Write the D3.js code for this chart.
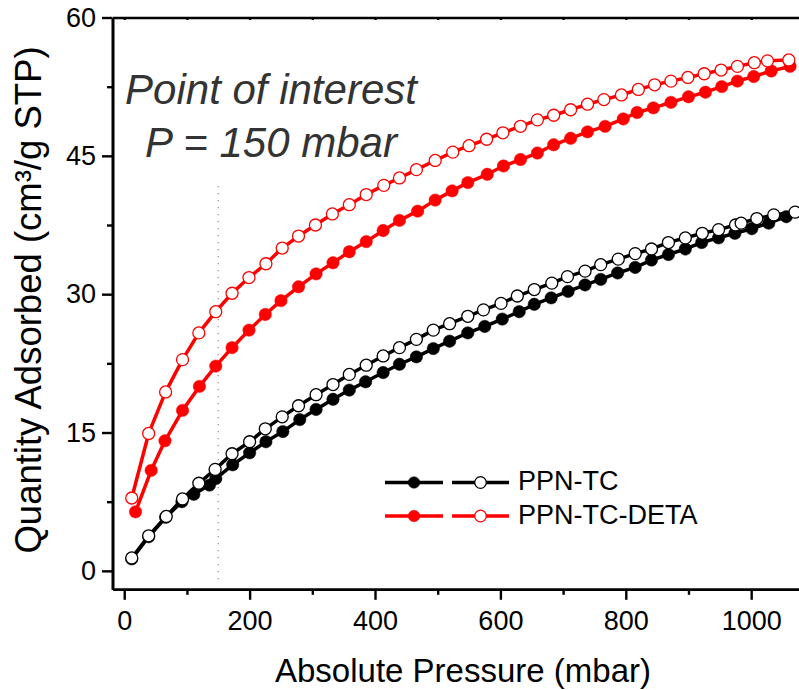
<!DOCTYPE html>
<html>
<head>
<meta charset="utf-8">
<script src="https://cdn.jsdelivr.net/npm/d3@7"></script>
<style>
  html, body { margin: 0; padding: 0; background: #fff; }
  svg { display: block; font-family: "Liberation Sans", Arial, sans-serif; }
</style>
</head>
<body>
<svg id="chart" width="799" height="690"></svg>
<script>
// CO2 uptake isotherms (mbar vs cm3/g STP)
const tcFilledP = [12, 39, 66, 92, 111, 136, 146, 173, 200, 226, 253, 280, 306, 333, 359, 385, 413, 439, 466, 493, 519, 548, 575, 603, 630, 654, 681, 708, 735, 760, 787, 815, 841, 868, 895, 921, 948, 974, 1001, 1028, 1056, 1082];
const tcFilledQ = [1.3, 3.7, 5.8, 7.5, 8.3, 9.3, 10.0, 11.5, 12.8, 14.0, 15.1, 16.4, 17.5, 18.6, 19.6, 20.5, 21.5, 22.4, 23.2, 24.1, 24.9, 25.8, 26.5, 27.3, 28.1, 28.9, 29.6, 30.3, 31.0, 31.6, 32.3, 32.9, 33.7, 34.3, 34.9, 35.6, 36.1, 36.6, 37.1, 37.7, 38.4, 38.9];

const tcOpenP = [12, 39, 67, 93, 119, 145, 172, 200, 225, 252, 278, 306, 333, 359, 386, 413, 439, 466, 493, 519, 548, 573, 601, 627, 654, 682, 707, 735, 760, 788, 815, 841, 868, 895, 922, 948, 975, 984, 1009, 1036, 1070];
const tcOpenQ = [1.4, 3.8, 5.9, 7.8, 9.5, 11.0, 12.7, 14.0, 15.4, 16.7, 17.9, 19.1, 20.2, 21.3, 22.3, 23.3, 24.2, 25.1, 26.1, 26.8, 27.6, 28.3, 29.0, 29.8, 30.5, 31.2, 31.9, 32.5, 33.2, 33.8, 34.4, 34.9, 35.6, 36.1, 36.6, 37.0, 37.5, 37.7, 38.2, 38.6, 38.9];

const detaFilledP = [18, 43, 65, 93, 120, 146, 172, 199, 225, 250, 278, 306, 333, 359, 386, 413, 439, 468, 496, 523, 548, 579, 605, 632, 659, 685, 712, 739, 767, 796, 818, 844, 872, 900, 927, 953, 978, 1004, 1032, 1062];
const detaFilledQ = [6.4, 10.9, 14.1, 17.4, 20.0, 22.2, 24.2, 26.1, 27.8, 29.3, 30.8, 32.2, 33.4, 34.6, 35.7, 36.9, 38.0, 39.0, 40.2, 41.2, 42.1, 43.0, 43.9, 44.6, 45.3, 46.2, 46.9, 47.6, 48.2, 49.0, 49.7, 50.2, 50.8, 51.4, 51.9, 52.5, 53.1, 53.6, 54.2, 54.7];

const detaOpenP = [12, 39, 66, 93, 119, 146, 172, 199, 226, 252, 278, 305, 332, 359, 386, 414, 439, 466, 496, 524, 550, 578, 604, 632, 659, 685, 712, 739, 765, 793, 820, 846, 872, 899, 925, 952, 978, 1005, 1026, 1060];
const detaOpenQ = [7.9, 14.9, 19.4, 22.9, 25.8, 28.1, 30.1, 31.8, 33.3, 35.0, 36.3, 37.5, 38.7, 39.7, 40.8, 41.8, 42.6, 43.5, 44.5, 45.4, 46.1, 46.8, 47.5, 48.2, 48.9, 49.4, 50.0, 50.6, 51.1, 51.6, 52.2, 52.7, 53.1, 53.5, 53.9, 54.3, 54.7, 55.1, 55.3, 55.4];

const xTicks = [0, 200, 400, 600, 800, 1000];
const xMinorTicks = [100, 300, 500, 700, 900];
const yTicks = [0, 15, 30, 45, 60];
const yMinorTicks = [7.5, 22.5, 37.5, 52.5];
const legendLabels = ["PPN-TC", "PPN-TC-DETA"];
const markedPressure = 150;

const svg = d3.select("#chart");
const plotLeft = 112.5, plotRight = 812, plotTop = 17.5, plotBottom = 589.3;

const x = d3.scaleLinear().domain([-18.7, 1097]).range([plotLeft, plotRight]);
const y = d3.scaleLinear().domain([-2, 60]).range([plotBottom, plotTop]);

const zip = (ps, qs) => ps.map((p, i) => ({p, q: qs[i]}));
const series = [
  {data: zip(tcFilledP, tcFilledQ), color: "#000", filled: true},
  {data: zip(tcOpenP, tcOpenQ), color: "#000", filled: false},
  {data: zip(detaFilledP, detaFilledQ), color: "#ff0000", filled: true},
  {data: zip(detaOpenP, detaOpenQ), color: "#ff0000", filled: false}
];

// dotted marker for the pressure of interest
svg.append("line")
  .attr("x1", x(markedPressure)).attr("x2", x(markedPressure))
  .attr("y1", 186).attr("y2", 585)
  .attr("stroke", "#a0a0a0").attr("stroke-width", 1.5)
  .attr("stroke-dasharray", "1.2,5.8");

// isotherm curves
const line = d3.line().x(d => x(d.p)).y(d => y(d.q));
const plot = svg.append("g");
series.forEach(s => {
  const g = plot.append("g");
  g.append("path").datum(s.data)
    .attr("d", line).attr("fill", "none")
    .attr("stroke", s.color).attr("stroke-width", 3.5)
    .attr("stroke-linejoin", "round");
  g.selectAll("circle").data(s.data).join("circle")
    .attr("cx", d => x(d.p)).attr("cy", d => y(d.q))
    .attr("r", s.filled ? 6.2 : 6.0)
    .attr("fill", s.filled ? s.color : "#fff")
    .attr("stroke", s.color).attr("stroke-width", s.filled ? 0.5 : 1.3);
});

// axes
const axisG = svg.append("g");
const xAxis = axisG.append("g").attr("transform", `translate(0,${plotBottom})`)
  .call(d3.axisBottom(x).tickValues(xTicks).tickSizeInner(10.5).tickSizeOuter(0).tickPadding(11).tickFormat(d3.format("d")));
const xMinor = axisG.append("g").attr("transform", `translate(0,${plotBottom})`)
  .call(d3.axisBottom(x).tickValues(xMinorTicks).tickSizeInner(5.5).tickSizeOuter(0).tickFormat(""));
const xTop = axisG.append("g").attr("transform", `translate(0,${plotTop})`)
  .call(d3.axisBottom(x).tickValues(xTicks.concat(xMinorTicks)).tickSizeInner(2.5).tickSizeOuter(0).tickFormat(""));
const yAxis = axisG.append("g").attr("transform", `translate(${plotLeft},0)`)
  .call(d3.axisLeft(y).tickValues(yTicks).tickSizeInner(10.5).tickSizeOuter(0).tickPadding(6).tickFormat(d3.format("d")));
const yMinor = axisG.append("g").attr("transform", `translate(${plotLeft},0)`)
  .call(d3.axisLeft(y).tickValues(yMinorTicks).tickSizeInner(5.5).tickSizeOuter(0).tickFormat(""));

[xAxis, xMinor, xTop, yAxis, yMinor].forEach(g => {
  g.attr("font-family", "'Liberation Sans', Arial, sans-serif");
  g.select(".domain").attr("stroke", "#000").attr("stroke-width", 2.6);
  g.selectAll(".tick line").attr("stroke", "#000").attr("stroke-width", 2.4);
  g.selectAll(".tick text").attr("font-size", 27).attr("fill", "#000");
});
xAxis.selectAll(".tick text").attr("dy", "0.71em");

// axis titles
svg.append("text")
  .attr("x", 463).attr("y", 682)
  .attr("text-anchor", "middle").attr("font-size", 33)
  .text("Absolute Pressure (mbar)");
svg.append("text")
  .attr("transform", "translate(41,300) rotate(-90)")
  .attr("text-anchor", "middle").attr("font-size", 36.5)
  .text("Quantity Adsorbed (cm³/g STP)");

// annotation
const note = svg.append("text").attr("fill", "#333").attr("font-style", "italic").attr("font-size", 42);
note.append("tspan").attr("x", 271).attr("y", 104).attr("text-anchor", "middle").text("Point of interest");
note.append("tspan").attr("x", 271).attr("y", 157).attr("text-anchor", "middle").text(`P = ${markedPressure} mbar`);

// legend
const legendColors = ["#000", "#ff0000"];
const legend = svg.append("g");
legendLabels.forEach((label, i) => {
  const ly = 482.5 + i * 33.5;
  const row = legend.append("g");
  [[385, 443, true], [452, 509, false]].forEach(([x1, x2, filled]) => {
    row.append("line").attr("x1", x1).attr("x2", x2).attr("y1", ly).attr("y2", ly)
      .attr("stroke", legendColors[i]).attr("stroke-width", 3.4);
    row.append("circle").attr("cx", (x1 + x2) / 2).attr("cy", ly).attr("r", 5.8)
      .attr("fill", filled ? legendColors[i] : "#fff")
      .attr("stroke", legendColors[i]).attr("stroke-width", filled ? 0.5 : 1.3);
  });
  row.append("text").attr("x", 518).attr("y", ly + 7.5)
    .attr("font-size", 27).attr("fill", "#000").text(label);
});
</script>
</body>
</html>
